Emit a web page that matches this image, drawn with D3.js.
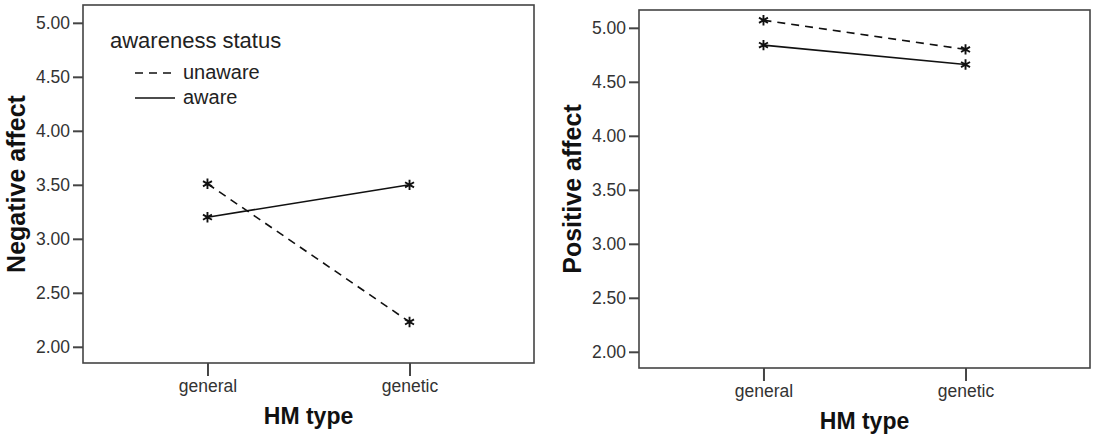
<!DOCTYPE html>
<html lang="en">

<head>
    <meta charset="UTF-8">
    <style type="text/css">
        body {
            margin: 0;
            background: #fff;
        }

        svg {
            font-family: "Liberation Sans", Arial, sans-serif;
        }

        .yAxis path,
        .xAxis path {
            display: none;
        }

        .yAxis line,
        .xAxis line {
            stroke: #444;
            stroke-width: 2;
        }

        .yAxis text,
        .xAxis text {
            fill: #333;
            font-size: 17.5px;
        }

        .frame {
            fill: none;
            stroke: #444;
            stroke-width: 1.6;
        }

        .axisTitle {
            font-weight: bold;
            font-size: 23px;
            fill: #111;
        }

        .yTitle {
            font-size: 25px;
        }

        .legend text {
            font-size: 20px;
            fill: #222;
        }

        .legend .legendTitle {
            font-size: 22px;
        }
    </style>
</head>

<body>
    <script src="https://cdn.jsdelivr.net/npm/d3@7"></script>
    <script type="text/javascript">

        // categories + series
        var hmTypes = ["general", "genetic"];
        var groups = ["unaware", "aware"];
        var tickValues = [2.00, 2.50, 3.00, 3.50, 4.00, 4.50, 5.00];

        var negUnaware = [3.51, 2.23];
        var negAware = [3.20, 3.50];
        var posUnaware = [5.07, 4.80];
        var posAware = [4.84, 4.66];

        var width = 451, height = 358;

        var svg = d3.select("body").append("svg")
            .attr("width", 1094)
            .attr("height", 440);

        function drawPanel(left, top, series, yTitle, withLegend) {
            var g = svg.append("g")
                .attr("transform", "translate(" + left + "," + top + ")");

            var x = d3.scalePoint()
                .domain(hmTypes)
                .range([0, width])
                .padding(0.616);

            var y = d3.scaleLinear()
                .domain([1.85, 5.165])
                .range([height, 0]);

            g.append("rect")
                .attr("class", "frame")
                .attr("width", width)
                .attr("height", height);

            g.append("g")
                .attr("class", "yAxis")
                .call(d3.axisLeft(y)
                    .tickValues(tickValues)
                    .tickFormat(d3.format(".2f"))
                    .tickSize(10)
                    .tickPadding(3));

            g.append("g")
                .attr("class", "xAxis")
                .attr("transform", "translate(0," + height + ")")
                .call(d3.axisBottom(x)
                    .tickSize(13)
                    .tickPadding(4));

            g.append("text")
                .attr("class", "axisTitle")
                .attr("x", width / 2)
                .attr("y", 419)
                .attr("text-anchor", "middle")
                .text("HM type");

            g.append("text")
                .attr("class", "axisTitle yTitle")
                .attr("transform", "translate(-58," + (height / 2) + ") rotate(-90)")
                .attr("text-anchor", "middle")
                .text(yTitle);

            var line = d3.line()
                .x(function (d, i) { return x(hmTypes[i]); })
                .y(function (d) { return y(d); });

            series.forEach(function (s) {
                g.append("path")
                    .attr("d", line(s.values))
                    .style("fill", "none")
                    .style("stroke", "#111")
                    .style("stroke-width", 1.6)
                    .style("stroke-dasharray", s.dash);

                g.selectAll(null)
                    .data(s.values)
                    .enter().append("path")
                    .attr("d", d3.symbol(d3.symbolAsterisk, 75))
                    .attr("transform", function (d, i) {
                        return "translate(" + x(hmTypes[i]) + "," + y(d) + ")";
                    })
                    .style("fill", "none")
                    .style("stroke", "#111")
                    .style("stroke-width", 1.9);
            });

            if (withLegend) {
                var legend = g.append("g")
                    .attr("class", "legend")
                    .attr("transform", "translate(27,0)");

                legend.append("text")
                    .attr("class", "legendTitle")
                    .attr("x", 0)
                    .attr("y", 43)
                    .text("awareness status");

                var items = legend.selectAll(".item")
                    .data(series)
                    .enter().append("g")
                    .attr("class", "item")
                    .attr("transform", function (d, i) {
                        return "translate(25," + (68 + i * 25) + ")";
                    });

                items.append("line")
                    .attr("x1", 0)
                    .attr("x2", 40)
                    .style("stroke", "#111")
                    .style("stroke-width", 1.6)
                    .style("stroke-dasharray", function (d) { return d.dash; });

                items.append("text")
                    .attr("x", 48)
                    .attr("y", 6)
                    .text(function (d) { return d.name; });
            }
        }

        drawPanel(83, 5, [
            { name: groups[0], values: negUnaware, dash: "8,6" },
            { name: groups[1], values: negAware, dash: null }
        ], "Negative affect", true);

        drawPanel(639, 10, [
            { name: groups[0], values: posUnaware, dash: "8,6" },
            { name: groups[1], values: posAware, dash: null }
        ], "Positive affect", false);

    </script>
</body>

</html>
